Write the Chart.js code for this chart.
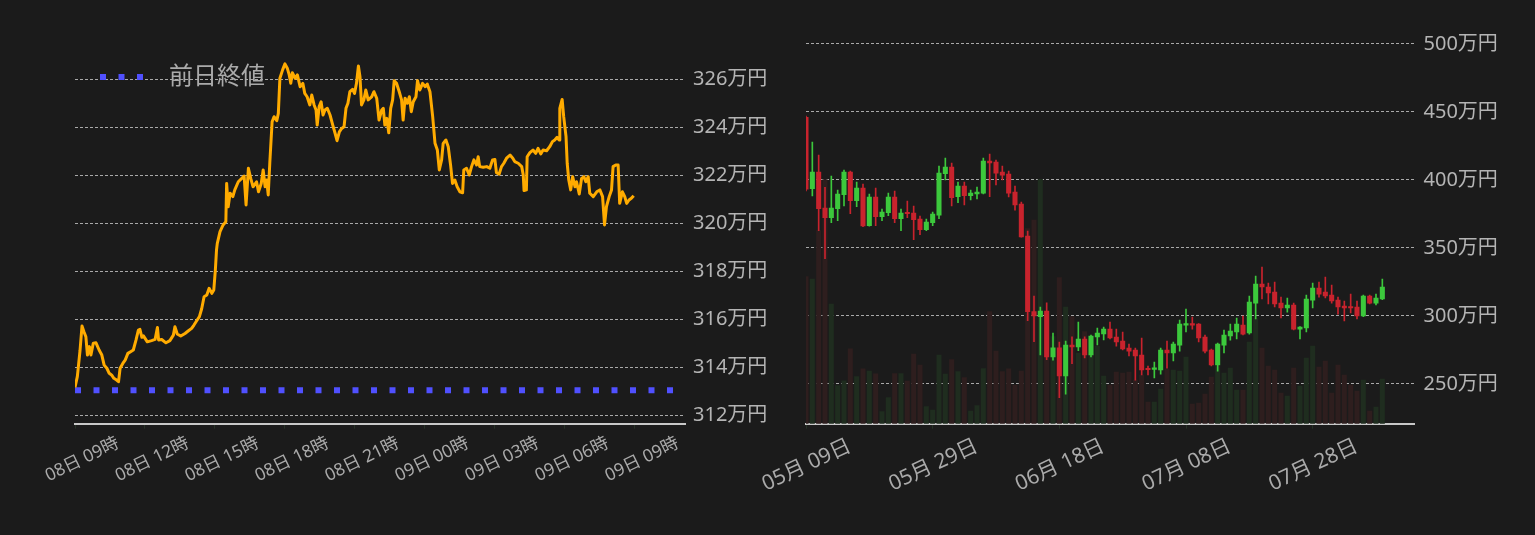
<!DOCTYPE html>
<html lang="ja">
<head>
<meta charset="utf-8">
<title>ビットコイン価格</title>
<script src="https://cdn.jsdelivr.net/npm/chart.js@4/dist/chart.umd.min.js"></script>
<style>
  html, body { margin: 0; padding: 0; background: #1b1b1b; }
  body { width: 1535px; height: 535px; position: relative; overflow: hidden; }
  canvas { position: absolute; top: 0; }
  #intraday { left: -40px; }
  #daily { left: 680px; }
</style>
</head>
<body>
<canvas id="intraday" width="815" height="535"></canvas>
<canvas id="daily" width="855" height="535"></canvas>
<script>
// --- 1日チャート (08日 09時からの経過分, 価格は万円) ---
const minutes = [0,6,13,18,23,28,32,37,41,47,54,62,69,75,82,88,94,100,107,112,
  116,123,129,136,143,150,157,163,167,172,176,186,197,206,212,215,223,234,244,253,
  257,263,272,283,291,300,306,313,320,326,332,339,345,352,357,361,364,366,373,381,
  388,390,394,399,406,411,420,429,435,440,446,452,458,467,472,479,484,489,493,497,
  501,507,512,519,523,527,534,540,546,551,555,559,566,572,579,586,591,597,604,609,
  615,620,623,628,633,638,643,649,656,663,669,674,680,686,692,697,702,707,714,719,
  724,729,733,737,743,748,754,763,769,776,782,789,793,797,802,807,812,817,821,827,
  834,840,844,849,855,860,865,870,877,881,887,894,901,906,913,920,926,932,937,943,
  947,954,960,966,971,977,983,990,997,1000,1007,1014,1020,1026,1033,1037,1041,1050,1059,1067,
  1074,1080,1084,1091,1097,1103,1110,1119,1126,1131,1140,1149,1153,1155,1161,1163,1170,1178,1185,1191,
  1198,1204,1213,1221,1228,1234,1240,1245,1247,1253,1257,1263,1266,1270,1275,1280,1286,1290,1297,1303,
  1309,1314,1320,1324,1333,1342,1350,1357,1362,1367,1374,1380,1384,1391,1397,1401,1408,1414,1419,1425,
  1431,1437];
const prices = [313.15,313.6,314.7,315.71,315.47,315.26,314.5,314.85,314.5,314.99,
  315.01,314.71,314.5,314.08,313.95,313.74,313.67,313.53,313.46,313.39,
  313.95,314.15,314.29,314.57,314.64,314.71,315.13,315.54,315.57,315.24,
  315.3,315.05,315.1,315.15,315.65,315.13,315.15,315.01,315.1,315.33,
  315.68,315.38,315.29,315.4,315.5,315.61,315.75,315.93,316.1,316.44,
  316.93,317.0,317.28,317.07,317.21,318.04,318.88,319.15,319.64,319.92,
  320.05,321.65,320.68,321.24,321.1,321.38,321.72,321.86,321.96,320.75,
  322.28,321.86,321.51,321.72,321.3,321.65,322.21,321.51,321.79,321.17,
  322.49,324.22,324.43,324.26,324.57,326.03,326.38,326.63,326.45,326.17,
  325.82,326.26,326.03,326.17,325.68,325.82,325.4,325.26,324.92,325.33,
  324.92,324.71,324.08,324.85,325.05,324.5,324.71,324.78,324.5,324.08,
  323.74,323.43,323.8,323.94,324.01,324.78,324.99,325.47,325.57,325.4,
  325.82,326.54,326.1,324.92,325.13,325.54,325.13,325.26,325.47,325.2,
  324.29,324.71,324.78,324.08,324.36,323.76,324.78,325.13,325.93,325.82,
  325.47,325.13,324.29,325.2,324.99,325.26,324.64,325.05,325.26,325.93,
  325.54,325.82,325.68,325.79,325.47,324.43,323.32,323.04,322.21,322.63,
  323.32,323.46,323.18,322.42,321.65,321.79,321.51,321.3,321.26,322.21,
  322.28,322.0,322.35,322.63,322.42,322.76,322.35,322.32,322.35,322.28,
  322.63,322.65,322.1,322.04,322.35,322.49,322.7,322.83,322.7,322.56,
  322.49,322.35,322.0,321.35,321.38,322.76,322.93,323.04,322.9,323.11,
  322.88,323.04,323.01,323.18,323.39,323.46,323.57,323.46,324.78,325.15,
  324.43,323.6,322.49,321.79,321.38,321.93,321.51,321.72,321.21,321.86,
  321.93,321.72,321.93,321.24,321.1,321.3,321.38,321.1,319.92,320.68,
  321.1,321.38,322.35,322.42,322.42,320.82,321.3,321.1,320.82,320.96,
  321.03,321.14];
const prevClose = 313.03;

// --- 日足 (2022年05月09日から1日ずつ, 万円) ---
const firstDay = new Date(2022, 4, 9);
const opens = [446,393.6,405.9,379.4,372.3,378.9,389.2,405.9,384.8,394.1,
  366.4,387.5,373.0,376.0,387.5,371.5,375.7,375.7,371.3,363.5,
  368.6,374.2,404.6,409.5,387.7,395.6,388.5,389.7,390.4,414.0,
  413.2,405.9,404.4,391.2,382.3,358.8,303.2,299.5,303.7,269.9,
  276.5,255.9,278.7,277.2,283.1,271.3,284.6,286.8,290.4,284.5,
  281.6,276.4,275.0,271.3,261.0,260.8,260.3,275.0,272.8,278.6,
  293.3,294.1,294.1,284.5,275.0,264.0,278.6,285.3,288.2,293.3,
  287.5,309.5,323.5,321.3,317.6,309.5,305.9,308.1,290.4,291.2,
  311.7,320.6,317.6,315.4,311.7,307.3,306.8,306.6,300.0,314.7,
  309.5,312.5];
const closes = [393.2,405.9,378.9,372.3,379.4,389.7,405.9,384.8,394.1,366.2,
  387.5,373.0,376.4,387.5,371.5,375.7,375.2,370.8,363.5,369.1,
  375.0,405.1,409.5,387.0,395.6,388.5,390.4,391.2,414.0,412.5,
  405.1,403.6,390.4,381.6,358.1,303.2,300.0,303.7,269.9,276.5,
  255.9,278.7,277.2,283.1,271.3,285.3,287.5,290.4,283.8,280.9,
  275.7,274.2,270.6,260.3,260.5,261.2,275.0,272.8,279.4,294.1,
  294.1,293.3,283.8,274.2,264.0,279.4,286.0,288.9,294.1,286.7,
  310.3,323.5,321.3,316.9,308.8,305.9,308.1,290.4,291.9,312.5,
  320.6,316.1,314.7,311.0,306.6,305.9,305.9,300.0,314.7,309.5,
  313.2,321.3];
const highs = [447,427.9,418.4,394.6,402.9,392.6,407.3,406.5,398.5,397.0,
  389.7,394.1,378.7,390.4,391.9,378.7,384.5,380.9,373.5,371.3,
  376.4,410.3,416.2,412.5,398.5,398.5,392.6,394.8,416.2,419.1,
  414.7,410.3,406.6,395.6,383.8,362.5,314.7,306.6,309.6,287.5,
  280.9,281.6,284.6,295.6,284.6,286.0,291.2,291.9,295.6,290.4,
  288.2,279.4,276.4,283.8,263.2,266.1,276.4,281.6,280.9,297.0,
  305.1,299.2,294.5,286.0,275.7,280.1,289.7,294.1,298.5,300.0,
  314.7,329.4,336.0,324.2,325.0,313.9,313.2,309.5,292.2,315.4,
  324.2,325.0,328.6,322.8,313.9,311.0,316.1,311.0,315.4,315.4,
  316.1,327.2];
const lows = [392,388.2,362.7,342.1,368.6,370.1,380.9,375.2,380.4,365.7,
  366.0,366.4,370.1,373.7,368.6,362.7,372.3,356.1,359.8,362.7,
  366.4,371.5,400.0,380.9,383.3,381.6,385.3,386.0,389.7,387.7,
  396.3,400.0,387.5,377.9,358.0,296.6,281.1,271.3,267.9,267.6,
  239.9,242.6,265.0,274.5,269.1,269.9,278.7,282.4,283.1,277.9,
  275.0,270.6,252.9,256.6,256.6,254.4,257.3,261.7,266.9,274.2,
  288.2,290.4,280.9,272.8,263.2,259.5,272.8,282.3,283.1,286.0,
  286.7,297.8,312.5,308.8,306.6,298.5,302.9,289.7,283.1,288.2,
  305.9,313.9,313.2,309.5,301.4,296.3,302.2,297.8,299.5,308.8,
  308.1,312.0];
const volumes = [1470,1447,1930,2440,1197,380,428,748,470,548,
  527,498,120,260,500,500,427,697,587,170,
  137,687,497,640,520,460,127,180,550,1120,
  727,520,548,387,527,1950,2035,2443,950,870,
  1460,1167,1070,705,922,700,777,477,387,517,
  507,517,437,487,217,217,347,547,537,527,
  667,197,207,297,467,570,507,557,337,337,
  817,1050,757,577,537,307,277,557,377,657,
  777,567,627,307,587,487,387,327,437,127,
  167,447];

const FONT = "'Noto Sans', 'Noto Sans CJK JP', sans-serif";
Chart.defaults.font.family = FONT;
Chart.defaults.color = '#aaaaaa';

const pad2 = n => String(n).padStart(2, '0');
const axisLine = { color: '#c8c8c8', width: 2 };
const tickMarks = { drawOnChartArea: false, drawTicks: true, tickLength: 5, color: '#263226', offset: false };
const hGrid = { color: 'rgba(205,205,205,0.8)', lineWidth: 1, drawTicks: false };

// legend box is laid out at the canvas top; put it at the top of the plot instead
const legendInPlot = {
  id: 'legendInPlot',
  afterLayout(chart) {
    const lg = chart.legend;
    const h = lg.height;
    lg.left = chart.chartArea.left;
    lg.top = chart.chartArea.top;
    lg.bottom = lg.top + h;
  }
};

// left: intraday line
new Chart(document.getElementById('intraday'), {
  type: 'line',
  data: {
    datasets: [
      {
        label: '価格',
        data: minutes.map((m, i) => ({ x: m, y: prices[i] })),
        borderColor: '#ffab00',
        borderWidth: 3,
        borderJoinStyle: 'round',
        pointRadius: 0,
        tension: 0,
        order: 0
      },
      {
        label: '前日終値',
        data: [{ x: 0, y: prevClose }, { x: 1569, y: prevClose }],
        borderColor: '#5050ff',
        backgroundColor: '#5050ff',
        borderWidth: 6,
        borderDash: [6, 12.5],
        pointRadius: 0,
        order: 1
      }
    ]
  },
  options: {
    responsive: false,
    animation: false,
    layout: { padding: { left: 115, top: 55 } },
    plugins: {
      tooltip: { enabled: false },
      legend: {
        position: 'chartArea',
        align: 'start',
        labels: {
          usePointStyle: true,
          pointStyle: 'line',
          pointStyleWidth: 72,
          boxHeight: 6,
          padding: 10,
          color: '#aaaaaa',
          font: { size: 24 },
          generateLabels: chart => Chart.defaults.plugins.legend.labels.generateLabels(chart)
            .filter(it => it.datasetIndex === 1)
            .map(it => Object.assign(it, { lineDash: [0, 15, 6, 12.5, 6, 12.5, 6, 100] }))
        }
      }
    },
    scales: {
      x: {
        type: 'linear',
        min: 0,
        max: 1569,
        afterFit: s => { s.height = 111.3; },
        grid: tickMarks,
        border: axisLine,
        ticks: {
          stepSize: 180,
          includeBounds: false,
          autoSkip: false,
          minRotation: 26,
          maxRotation: 26,
          labelOffset: 43,
          padding: 4,
          color: '#aaaaaa',
          font: { size: 17.5 },
          callback: v => {
            const t = 9 * 60 + v;
            return pad2(8 + Math.floor(t / 1440)) + '日 ' + pad2(Math.floor((t % 1440) / 60)) + '時';
          }
        }
      },
      y: {
        position: 'right',
        min: 311.64,
        max: 327,
        afterFit: s => { s.width = 90; },
        grid: hGrid,
        border: { display: false, dash: [3, 2] },
        ticks: {
          stepSize: 2,
          includeBounds: false,
          padding: 8,
          color: '#b4b4b4',
          font: { size: 20 },
          callback: v => v + '万円'
        }
      }
    }
  },
  plugins: [legendInPlot]
});

// right: daily candles + volume
const upColor = '#3cc83c', downColor = '#c8232d';
const candleColors = opens.map((o, i) => closes[i] >= o ? upColor : downColor);
const volColors = opens.map((o, i) => closes[i] >= o ? '#1f2d1f' : '#2e1e1e');

new Chart(document.getElementById('daily'), {
  type: 'bar',
  data: {
    datasets: [
      {
        label: '実体',
        data: opens.map((o, i) => ({ x: i, y: [o, closes[i]] })),
        backgroundColor: candleColors,
        barThickness: 4.4,
        minBarLength: 1.5,
        grouped: false,
        order: 1
      },
      {
        label: 'ヒゲ',
        data: lows.map((l, i) => ({ x: i, y: [l, highs[i]] })),
        backgroundColor: candleColors,
        barThickness: 1,
        grouped: false,
        order: 2
      },
      {
        label: '出来高',
        data: volumes.map((v, i) => ({ x: i, y: v })),
        yAxisID: 'yv',
        backgroundColor: volColors,
        barThickness: 4.4,
        grouped: false,
        order: 3
      }
    ]
  },
  options: {
    responsive: false,
    animation: false,
    layout: { padding: { left: 126, top: 30.4 } },
    plugins: { legend: { display: false }, tooltip: { enabled: false } },
    scales: {
      x: {
        type: 'linear',
        offset: false,
        min: 0,
        max: 96,
        afterFit: s => { s.height = 111.3; },
        grid: tickMarks,
        border: axisLine,
        ticks: {
          stepSize: 20,
          includeBounds: false,
          autoSkip: false,
          minRotation: 25,
          maxRotation: 25,
          labelOffset: 44,
          padding: 5,
          color: '#aaaaaa',
          font: { size: 21 },
          callback: v => {
            const d = new Date(firstDay.getFullYear(), firstDay.getMonth(), firstDay.getDate() + v);
            return pad2(d.getMonth() + 1) + '月 ' + pad2(d.getDate()) + '日';
          }
        }
      },
      y: {
        position: 'right',
        min: 220.8,
        max: 510,
        afterFit: s => { s.width = 121; },
        grid: hGrid,
        border: { display: false, dash: [3, 2] },
        ticks: {
          stepSize: 50,
          includeBounds: false,
          padding: 9.5,
          color: '#b4b4b4',
          font: { size: 20 },
          callback: v => v + '万円'
        }
      },
      yv: { display: false, min: 0, max: 3933 }
    }
  }
});
</script>
</body>
</html>
